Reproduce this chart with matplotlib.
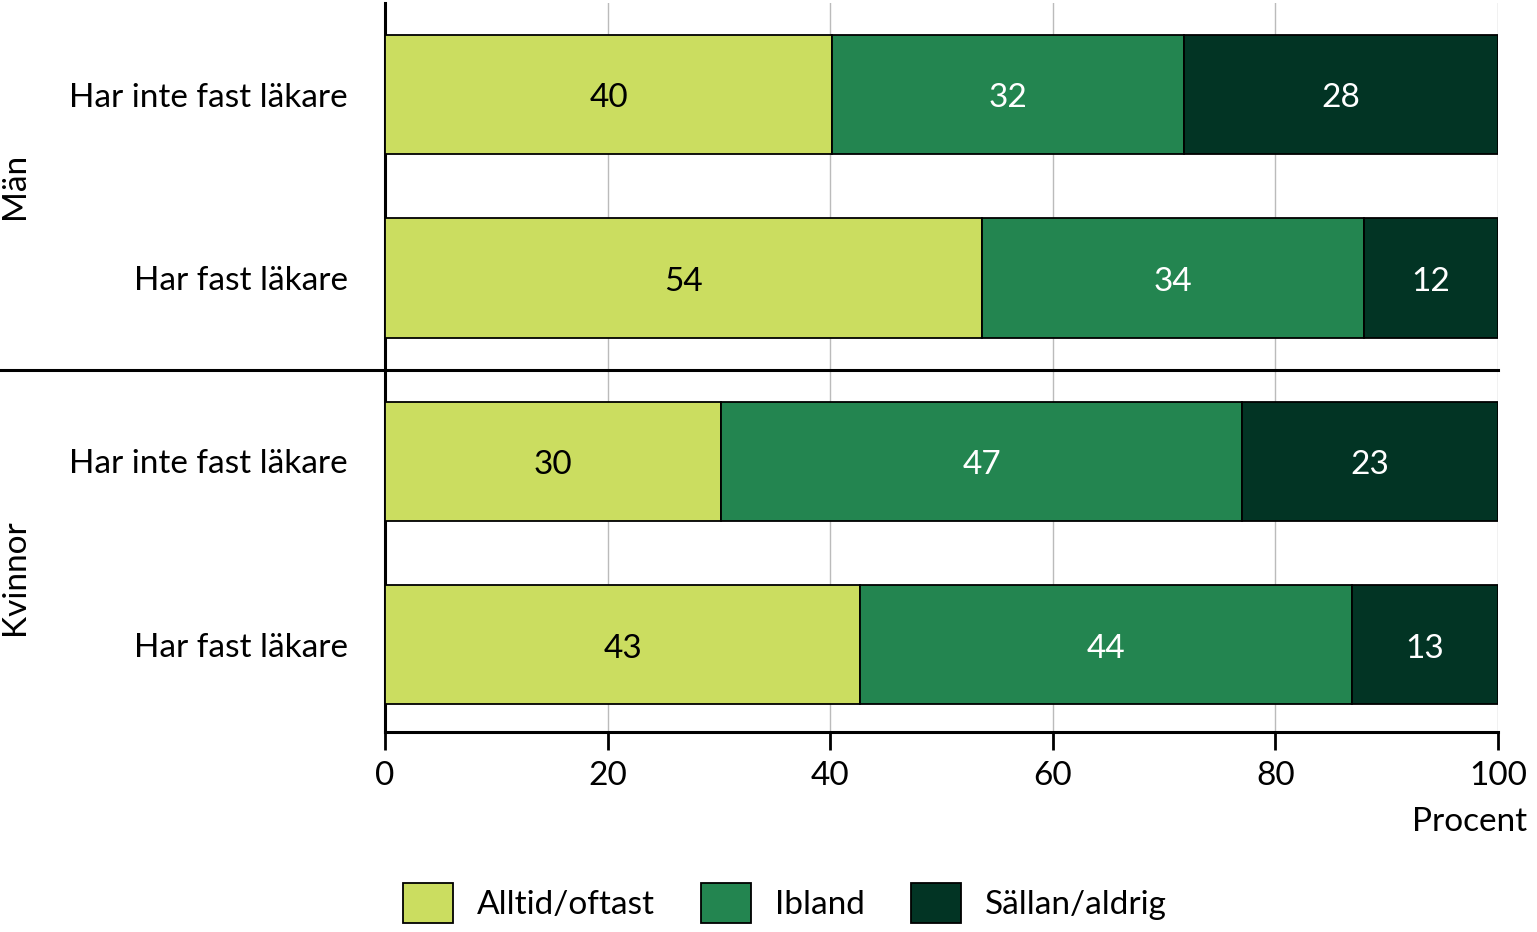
import numpy as np
import matplotlib.pyplot as plt
from matplotlib.patches import Patch

plt.rcParams['font.family'] = ['Lato', 'DejaVu Sans']

# --- data ---
rows = ["Har inte fast läkare", "Har fast läkare", "Har inte fast läkare", "Har fast läkare"]
groups = ["Män", "Kvinnor"]
series = ["Alltid/oftast", "Ibland", "Sällan/aldrig"]
alltid = [40.2, 53.6, 30.2, 42.7]
ibland = [31.6, 34.4, 46.8, 44.2]
sallan = [28.2, 12.0, 23.0, 13.1]
x_ticks = [0, 20, 40, 60, 80, 100]

colors = ['#CBDD60', '#238550', '#023424']
text_colors = ['black', 'white', 'white']

fig = plt.figure(figsize=(15.37, 9.32), dpi=100)
ax = fig.add_axes([385 / 1537, 1 - 732 / 932, 1113 / 1537, 729 / 932])

ypos = np.arange(len(rows))[::-1]  # top row first
left = np.zeros(len(rows))
for vals, col, tcol, name in zip([alltid, ibland, sallan], colors, text_colors, series):
    vals = np.array(vals, dtype=float)
    ax.barh(ypos, vals, left=left, height=0.65, color=col, edgecolor='black',
            linewidth=1.3, label=name, zorder=3)
    for y, l, v in zip(ypos, left, vals):
        ax.text(l + v / 2, y - 0.02, f"{v:.0f}", ha='center', va='center',
                color=tcol, fontsize=24, zorder=4)
    left += vals

ax.set_xlim(0, 100)
ax.set_ylim(-0.475, 3.5)
ax.set_xticks(x_ticks)
ax.set_xticklabels([str(t) for t in x_ticks], fontsize=24)
ax.set_yticks(ypos)
ax.set_yticklabels(rows, fontsize=24)
ax.tick_params(axis='y', length=0, pad=27)
ax.tick_params(axis='x', length=13, width=2, pad=8, direction='out')

ax.grid(axis='x', color='#BBBBBB', linewidth=1, zorder=0)
ax.set_axisbelow(True)
for s in ['top', 'right']:
    ax.spines[s].set_visible(False)
for s in ['left', 'bottom']:
    ax.spines[s].set_linewidth(2.2)
    ax.spines[s].set_color('black')

# divider between the groups
ax.axhline(1.5, xmin=-385 / 1113, xmax=1, color='black', linewidth=2.2,
           clip_on=False, zorder=5)

# group labels
ax.text(-370 / 1113 * 100, 2.5, groups[0], rotation=90, ha='center', va='center',
        fontsize=24, clip_on=False)
ax.text(-370 / 1113 * 100, 0.37, groups[1], rotation=90, ha='center', va='center',
        fontsize=24, clip_on=False)

fig.text(1527 / 1537, 1 - 822 / 932, "Procent", ha='right', va='center', fontsize=24)

handles = [Patch(facecolor=c, edgecolor='black', linewidth=1.3) for c in colors]
fig.legend(handles, series, loc='center', bbox_to_anchor=(785 / 1537, 1 - 903 / 932),
           ncol=3, frameon=False, fontsize=24, handlelength=1.5, handleheight=1.5,
           handletextpad=0.7, columnspacing=1.4, borderpad=0)

fig.savefig("out.png", dpi=100)
